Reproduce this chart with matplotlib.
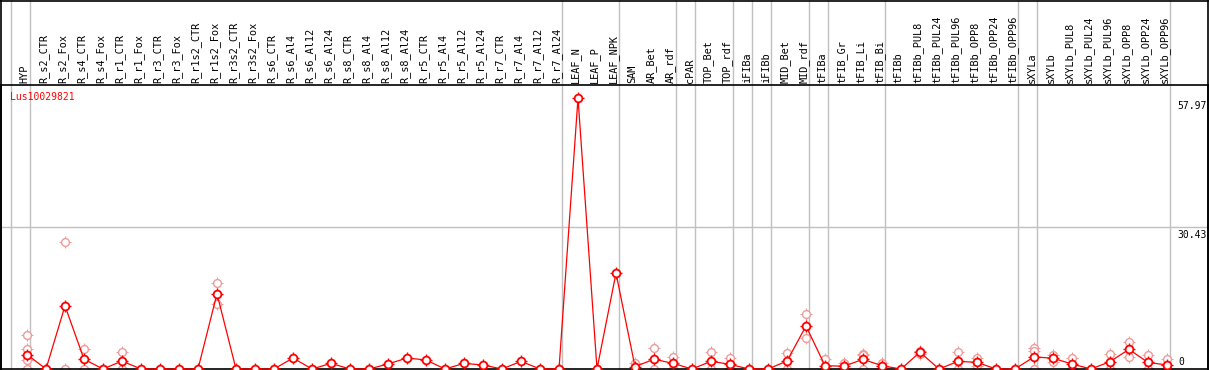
import numpy as np
import matplotlib
matplotlib.use('Agg')
from matplotlib import pyplot as plt

categories = ['HYP', 'R_s2_CTR', 'R_s2_Fox', 'R_s4_CTR', 'R_s4_Fox', 'R_r1_CTR', 'R_r1_Fox',
              'R_r3_CTR', 'R_r3_Fox', 'R_r1s2_CTR', 'R_r1s2_Fox', 'R_r3s2_CTR', 'R_r3s2_Fox',
              'R_s6_CTR', 'R_s6_Al4', 'R_s6_Al12', 'R_s6_Al24', 'R_s8_CTR', 'R_s8_Al4',
              'R_s8_Al12', 'R_s8_Al24', 'R_r5_CTR', 'R_r5_Al4', 'R_r5_Al12', 'R_r5_Al24',
              'R_r7_CTR', 'R_r7_Al4', 'R_r7_Al12', 'R_r7_Al24', 'LEAF_N', 'LEAF_P', 'LEAF_NPK',
              'SAM', 'AR_Bet', 'AR_rdf', 'cPAR', 'TOP_Bet', 'TOP_rdf', 'iFIBa', 'iFIBb',
              'MID_Bet', 'MID_rdf', 'tFIBa', 'tFIB_Gr', 'tFIB_Li', 'tFIB_Bi', 'tFIBb',
              'tFIBb_PUL8', 'tFIBb_PUL24', 'tFIBb_PUL96', 'tFIBb_OPP8', 'tFIBb_OPP24',
              'tFIBb_OPP96', 'sXYLa', 'sXYLb', 'sXYLb_PUL8', 'sXYLb_PUL24', 'sXYLb_PUL96',
              'sXYLb_OPP8', 'sXYLb_OPP24', 'sXYLb_OPP96']

means = [3.1, 0, 13.5, 2.1, 0, 1.7, 0,
         0, 0, 0, 16.1, 0, 0,
         0, 2.35, 0, 1.2, 0, 0,
         1.07, 2.35, 1.93, 0, 1.2, 0.86,
         0, 1.64, 0, 0, 57.97, 0, 20.5,
         0.5, 2.1, 1.2, 0, 1.64, 1.0, 0, 0,
         1.7, 9.2, 0.7, 0.6, 2.07, 0.7, 0,
         3.6, 0, 1.64, 1.42, 0,
         0, 2.6, 2.3, 1.07, 0, 1.57,
         4.2, 1.4, 0.86]

# replicate values (only where visible)
replicates = {
    'HYP': [7.3, 4.2, 1.9, 0], 'R_s2_Fox': [27.1, 0], 'R_s4_CTR': [4.3, 0],
    'R_r1_CTR': [3.6, 0], 'R_r1s2_Fox': [18.3, 13.8], 'SAM': [1.2, 0],
    'AR_Bet': [4.4, 0], 'AR_rdf': [2.5, 0], 'TOP_Bet': [3.7, 0], 'TOP_rdf': [2.4, 0],
    'MID_Bet': [3.4, 0], 'MID_rdf': [11.7, 6.6], 'tFIBa': [2.1, 0, 0],
    'tFIB_Gr': [1.35, 0], 'tFIB_Li': [3.3, 2.9, 0], 'tFIB_Bi': [1.2, 0.2],
    'tFIBb_PUL8': [3.9, 3.3], 'tFIBb_PUL96': [3.6, 0], 'tFIBb_OPP8': [2.3, 0.7],
    'sXYLa': [4.4, 3.85, 0], 'sXYLb': [3.0, 1.5], 'sXYLb_PUL8': [2.3, 0],
    'sXYLb_PUL96': [3.2, 0], 'sXYLb_OPP8': [5.8, 2.6], 'sXYLb_OPP24': [3.0, 0],
    'sXYLb_OPP96': [2.1, 0],
}

# index of last category in each group (-1 = before first)
group_ends = [-1, 0, 28, 31, 34, 35, 37, 38, 39, 41, 42, 45, 52, 53, 60]
ytick_vals = [57.97, 30.43, 0]
gene = 'Lus10029821'

W, H = 1209, 370
fig = plt.figure(figsize=(W / 100, H / 100), dpi=100)
ax = fig.add_axes([1 / W, 1 / H, 1207 / W, 284 / H])
ymax = 284 / 271 * 57.97
x = np.arange(len(categories))
ax.set_xlim((1 - 27) / 19, (1208 - 27) / 19)
ax.set_ylim(0, ymax)
ax.set_xticks([])
ax.set_yticks([])
for s in ax.spines.values():
    s.set_color('black')
    s.set_linewidth(1.2)

font = 'DejaVu Sans Mono'
fs = 7
red = '#ff0000'
pink = '#f09a9a'

for g in group_ends:
    ax.axvline(g + 0.18, 0, (H - 1) / 284, color='#c0c0c0', lw=1, clip_on=False, zorder=1)
ax.axhline(30.43, color='#c0c0c0', lw=1, zorder=1)

# replicates
for i, c in enumerate(categories):
    vals = replicates.get(c, [])
    if vals:
        xs = [i] * len(vals)
        ax.plot(xs, vals, ls='none', marker='+', ms=8, mew=0.8, color=pink, zorder=2, clip_on=False)
        ax.plot(xs, vals, ls='none', marker='o', ms=5.6, mew=1.0, mfc='white', mec=pink, zorder=2, clip_on=False)

ax.plot(x, means, color=red, lw=0.9, zorder=3, clip_on=False)
ax.plot(x, means, ls='none', marker='+', ms=8, mew=1.0, color=red, zorder=4, clip_on=False)
ax.plot(x, means, ls='none', marker='o', ms=5.6, mew=1.3, mfc='white', mec=red, zorder=5, clip_on=False)

for i, c in enumerate(categories):
    ax.text(i - 0.12, 1 + 2 / 284, c, rotation=90, ha='center', va='bottom',
            transform=ax.get_xaxis_transform(), fontsize=7.4, family=font, clip_on=False)

fig.text(10 / W, 1 - 92 / H, gene, color=red, fontsize=fs, family=font, ha='left', va='top')
for v in ytick_vals:
    ypix = 369 - v / 57.97 * 271
    if v == 0:
        fig.text(1178 / W, 1 - 367 / H, '0', fontsize=fs, family=font, ha='left', va='bottom')
    else:
        fig.text(1207 / W, 1 - (ypix + 3) / H, '%.2f' % v, fontsize=fs, family=font, ha='right', va='top')

# outer frame
fig.add_artist(plt.Line2D([0, 1], [1 - 0.5 / H, 1 - 0.5 / H], color='black', lw=1.2, transform=fig.transFigure))
fig.add_artist(plt.Line2D([1 / W, 1 / W], [0, 1], color='black', lw=1.2, transform=fig.transFigure))
fig.add_artist(plt.Line2D([1 - 1 / W, 1 - 1 / W], [0, 1], color='black', lw=1.2, transform=fig.transFigure))

fig.savefig('out.png', dpi=100)
